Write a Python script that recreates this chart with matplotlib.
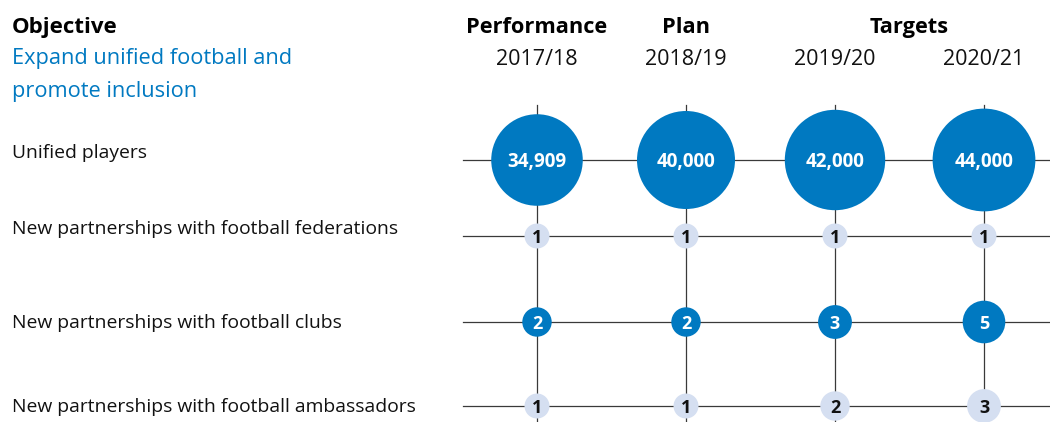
import matplotlib
matplotlib.use("Agg")
import matplotlib.pyplot as plt
from matplotlib.patches import Circle
import numpy as np

plt.rcParams['font.family'] = ['Open Sans', 'DejaVu Sans']

# ---- data ----
periods = ["2017/18", "2018/19", "2019/20", "2020/21"]
phase_labels = ["Performance", "Plan", "Targets"]
objective_lines = ["Expand unified football and", "promote inclusion"]
row_labels = ["Unified players",
              "New partnerships with football federations",
              "New partnerships with football clubs",
              "New partnerships with football ambassadors"]
unified_players = [34909, 40000, 42000, 44000]
federations = [1, 1, 1, 1]
clubs = [2, 2, 3, 5]
ambassadors = [1, 1, 2, 3]

# ---- layout ----
BLUE = "#0079C1"
LIGHT = "#D5DFF1"
LINE = "#3a3a3a"
TXT = "#111111"
W, H = 1050, 422
col_x = [537, 686, 835, 984]
row_y = [160, 236, 322, 406]
label_base = [158, 234, 328, 412]

fig = plt.figure(figsize=(W / 100, H / 100), dpi=100)
ax = fig.add_axes([0, 0, 1, 1])
ax.set_xlim(0, W)
ax.set_ylim(H, 0)
ax.axis("off")

# grid lines
for y in row_y:
    ax.plot([463, W], [y, y], color=LINE, lw=0.9, zorder=1)
for x in col_x:
    ax.plot([x, x], [105, H], color=LINE, lw=0.9, zorder=1)

# headers
ax.text(12, 33, "Objective", fontsize=16, fontweight="bold", color="black", va="baseline", ha="left")
for yb, line in zip([64, 97], objective_lines):
    ax.text(12, yb, line, fontsize=15.7, color=BLUE, va="baseline", ha="left")
ax.text(col_x[0], 33, phase_labels[0], fontsize=15.7, fontweight="bold", ha="center", va="baseline")
ax.text(col_x[1], 33, phase_labels[1], fontsize=15.7, fontweight="bold", ha="center", va="baseline")
ax.text((col_x[2] + col_x[3]) / 2, 33, phase_labels[2], fontsize=15.7, fontweight="bold",
        ha="center", va="baseline")
for x, p in zip(col_x, periods):
    ax.text(x, 65, p, fontsize=15.5, ha="center", va="baseline", color=TXT)

for yb, lab in zip(label_base, row_labels):
    ax.text(12, yb, lab, fontsize=13.9, ha="left", va="baseline", color=TXT)

# big circles: area proportional to value
for x, v in zip(col_x, unified_players):
    r = 50.5 * np.sqrt(v / 42500)
    ax.add_patch(Circle((x, row_y[0]), r, color=BLUE, zorder=3, lw=0))
    ax.text(x, row_y[0], f"{v:,}", color="white", fontsize=13.5, fontweight="bold",
            ha="center", va="center_baseline", zorder=4)

def small_r(v):
    return 10.3 + 2.2 * v

for vals, y, fc, tc in [(federations, row_y[1], LIGHT, TXT),
                        (clubs, row_y[2], BLUE, "white"),
                        (ambassadors, row_y[3], LIGHT, TXT)]:
    for x, v in zip(col_x, vals):
        ax.add_patch(Circle((x, y), small_r(v), color=fc, zorder=3, lw=0))
        ax.text(x, y, str(v), color=tc, fontsize=13, fontweight="bold",
                ha="center", va="center_baseline", zorder=4)

fig.savefig("out.png", dpi=100)
